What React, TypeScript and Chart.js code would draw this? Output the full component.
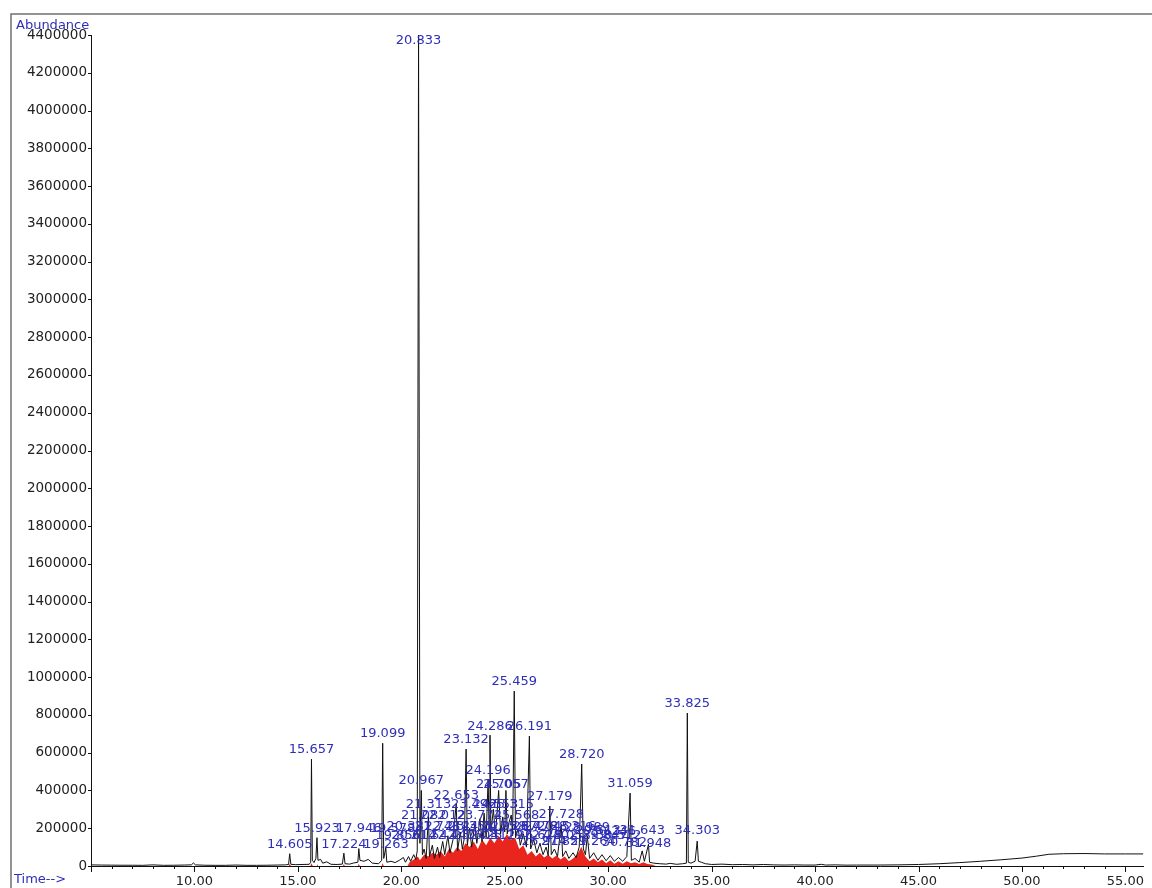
import React, { useEffect, useRef } from "react";
import { Chart, registerables } from "chart.js";

Chart.register(...registerables);

// Total ion chromatogram (time in min, abundance)
const ticTimes = [
  5.0, 5.5, 6.0, 6.5, 7.0, 7.5, 8.0, 8.5, 9.0, 9.5, 9.85, 9.95, 10.05, 10.5, 11.0, 11.5, 12.0, 12.5, 13.0, 13.5,
  14.0, 14.4, 14.55, 14.605, 14.66, 14.9, 15.2, 15.55, 15.62, 15.657, 15.7, 15.78, 15.87, 15.923, 15.97, 16.1, 16.2,
  16.4, 16.6, 16.9, 17.15, 17.224, 17.28, 17.5, 17.7, 17.9, 17.946, 18.0, 18.2, 18.4, 18.6, 18.9, 19.05, 19.099,
  19.15, 19.25, 19.3, 19.5, 19.7, 19.9, 20.1, 20.2, 20.35, 20.45, 20.6, 20.7, 20.77, 20.833, 20.9, 20.967, 21.02,
  21.1, 21.2, 21.313, 21.36, 21.5, 21.6, 21.75, 21.85, 22.0, 22.1, 22.25, 22.35, 22.5, 22.653, 22.72, 22.85, 22.95,
  23.05, 23.132, 23.19, 23.3, 23.4, 23.55, 23.65, 23.8, 23.9, 24.0, 24.1, 24.196, 24.24, 24.286, 24.33, 24.45,
  24.55, 24.705, 24.8, 24.9, 25.0, 25.057, 25.12, 25.2, 25.315, 25.38, 25.459, 25.52, 25.65, 25.75, 25.9, 26.05,
  26.191, 26.25, 26.4, 26.55, 26.7, 26.85, 27.0, 27.1, 27.179, 27.25, 27.4, 27.55, 27.728, 27.8, 27.95, 28.1, 28.3,
  28.45, 28.6, 28.72, 28.8, 28.9, 28.989, 29.1, 29.3, 29.5, 29.7, 29.9, 30.1, 30.3, 30.5, 30.7, 30.9, 31.059,
  31.12, 31.3, 31.5, 31.643, 31.75, 31.948, 32.0, 32.2, 32.5, 32.8, 33.0, 33.3, 33.6, 33.78, 33.825, 33.87, 34.0,
  34.2, 34.303, 34.36, 34.5, 34.7, 35.0, 35.5, 36.0, 36.5, 37.0, 37.5, 38.0, 38.5, 39.0, 39.5, 40.0, 40.3, 40.5,
  41.0, 41.5, 42.0, 43.0, 44.0, 45.0, 46.0, 47.0, 48.0, 49.0, 50.0, 50.7, 51.3, 52.0, 53.0, 54.0, 55.0, 55.87,
];
const ticValues = [
  6000, 5000, 4500, 4000, 4000, 3500, 6000, 3500, 4000, 5000, 6000, 16000, 6000, 4000, 3500, 3500, 5000, 3500, 3500, 4000,
  5000, 6000, 8000, 65000, 9000, 7000, 8000, 9000, 20000, 566000, 30000, 18000, 40000, 150000, 30000, 35000, 15000,
  22000, 9000, 8000, 10000, 68000, 12000, 10000, 16000, 20000, 92000, 30000, 25000, 35000, 15000, 12000, 30000, 650000,
  40000, 95000, 20000, 25000, 18000, 30000, 45000, 20000, 50000, 25000, 60000, 35000, 80000, 4400000, 120000, 400000, 60000,
  90000, 40000, 270000, 50000, 110000, 40000, 100000, 45000, 130000, 60000, 160000, 70000, 140000, 330000, 80000, 180000, 90000,
  150000, 619000, 110000, 200000, 100000, 220000, 120000, 250000, 130000, 280000, 150000, 460000, 200000, 693000, 180000, 300000,
  160000, 400000, 170000, 260000, 180000, 400000, 170000, 230000, 270000, 160000, 926000, 150000, 200000, 110000, 170000, 100000,
  688000, 90000, 140000, 70000, 120000, 60000, 100000, 55000, 317000, 60000, 90000, 50000, 220000, 50000, 80000, 40000, 70000,
  45000, 100000, 540000, 90000, 60000, 160000, 40000, 70000, 30000, 60000, 28000, 55000, 25000, 45000, 25000, 50000, 386000,
  30000, 40000, 20000, 80000, 25000, 115000, 20000, 15000, 12000, 10000, 14000, 9000, 12000, 15000, 810000, 20000, 15000,
  25000, 132000, 25000, 20000, 12000, 8000, 10000, 7000, 8000, 6000, 8000, 6000, 5000, 6000, 5000, 5000, 9000, 5000,
  6000, 4500, 5000, 5000, 6000, 8000, 12000, 18000, 25000, 33000, 42000, 52000, 62000, 65000, 66000, 64000, 64000, 64000,
];

// Integrated (red) peak areas
const areaTimes = [
  14.55, 14.605, 14.66, 15.6, 15.657, 15.72, 15.88, 15.923, 15.97, 17.18, 17.224, 17.27, 17.9, 17.946, 17.99, 19.05,
  19.099, 19.15, 20.3, 20.4, 20.6, 20.8, 20.9, 21.0, 21.1, 21.3, 21.5, 21.7, 21.9, 22.1, 22.3, 22.5, 22.7, 22.9, 23.1,
  23.3, 23.5, 23.7, 23.9, 24.1, 24.3, 24.5, 24.7, 24.9, 25.1, 25.3, 25.5, 25.7, 25.9, 26.1, 26.3, 26.5, 26.7, 26.9,
  27.1, 27.3, 27.5, 27.7, 27.9, 28.1, 28.3, 28.5, 28.7, 28.9, 29.1, 29.3, 29.5, 29.7, 29.9, 30.1, 30.3, 30.5, 30.7,
  30.9, 31.1, 31.3, 31.5, 31.7, 31.9, 32.1, 32.3,
];
const areaValues = [
  0, 12000, 0, 0, 15000, 0, 0, 12000, 0, 0, 10000, 0, 0, 12000, 0, 0,
  15000, 0, 0, 20000, 35000, 50000, 30000, 45000, 60000, 50000, 70000, 60000, 80000, 50000, 90000, 70000, 100000, 80000, 120000,
  100000, 130000, 90000, 140000, 110000, 150000, 120000, 160000, 130000, 170000, 140000, 150000, 90000, 110000, 60000, 80000, 50000, 70000, 45000,
  60000, 40000, 55000, 35000, 50000, 25000, 40000, 60000, 100000, 50000, 25000, 40000, 20000, 35000, 15000, 30000, 12000, 25000, 12000,
  25000, 15000, 20000, 10000, 20000, 10000, 8000, 0,
];

// Peak annotations: retention time text and the abundance at which each label sits
const peakLabels = [
  "14.605", "15.657", "15.923", "17.224", "17.946", "19.099", "19.263", "19.578", "20.833", "20.967", "21.313", "21.082",
  "22.653", "23.132", "24.196", "24.286", "24.705", "25.057", "25.315", "25.459", "26.191", "27.179", "27.728", "28.720",
  "28.989", "31.059", "31.643", "31.948", "33.825", "34.303", "23.496", "24.553", "22.012", "23.774", "25.568", "20.381",
  "21.748", "22.214", "23.355", "24.021", "24.938", "25.872", "26.478", "27.045", "28.316", "29.513", "30.246", "19.856",
  "20.614", "21.542", "22.447", "23.603", "24.412", "25.197", "26.675", "27.402", "28.058", "29.847", "30.512", "26.914",
  "27.851", "29.264", "30.782",
];
const labelLevels = [
  74000, 575000, 160000, 74000, 160000, 660000, 74000, 160000, 4330000, 410000, 285000, 225000,
  335000, 630000, 465000, 700000, 390000, 390000, 285000, 935000, 700000, 325000, 230000, 550000,
  165000, 395000, 145000, 80000, 820000, 145000, 285000, 285000, 225000, 225000, 225000, 170000,
  170000, 170000, 170000, 170000, 170000, 170000, 170000, 170000, 170000, 150000, 140000, 120000,
  120000, 120000, 120000, 120000, 120000, 120000, 120000, 120000, 120000, 120000, 120000, 90000,
  90000, 90000, 85000,
];

const xMin = 5;
const xMax = 55.87;
const yMax = 4400000;
const yStep = 200000;

const FONT = '"DejaVu Sans", Verdana, sans-serif';
const BLUE = "#2e2eb8";

const overlay = {
  id: "overlay",
  afterDraw(chart: any) {
    const { ctx, chartArea } = chart;
    const x = chart.scales.x;
    const y = chart.scales.y;
    ctx.save();
    // tick marks
    ctx.strokeStyle = "#111";
    ctx.lineWidth = 1;
    ctx.beginPath();
    x.ticks.forEach((t: any) => {
      if (!Number.isInteger(t.value)) return;
      const px = Math.round(x.getPixelForValue(t.value)) + 0.5;
      const len = t.value % 5 === 0 ? 6 : 3;
      ctx.moveTo(px, chartArea.bottom);
      ctx.lineTo(px, chartArea.bottom + len);
    });
    y.ticks.forEach((t: any) => {
      const py = Math.round(y.getPixelForValue(t.value)) + 0.5;
      ctx.moveTo(chartArea.left - 3, py);
      ctx.lineTo(chartArea.left, py);
    });
    ctx.stroke();

    // peak labels
    ctx.font = "13px " + FONT;
    ctx.fillStyle = BLUE;
    ctx.textAlign = "center";
    ctx.textBaseline = "bottom";
    peakLabels.forEach((txt, i) => {
      const px = x.getPixelForValue(Number(txt));
      const py = y.getPixelForValue(labelLevels[i]);
      ctx.fillText(txt, px, py - 1);
    });

    // axis captions
    ctx.textAlign = "left";
    ctx.textBaseline = "middle";
    ctx.fillText("Abundance", 16, 26);
    ctx.fillText("Time-->", 14, 880);

    // frame
    ctx.strokeStyle = "#707070";
    ctx.lineWidth = 1.5;
    ctx.beginPath();
    ctx.moveTo(11, chart.height);
    ctx.lineTo(11, 14);
    ctx.lineTo(chart.width, 14);
    ctx.stroke();
    ctx.restore();
  },
};

export default function App() {
  const ref = useRef<HTMLCanvasElement | null>(null);
  useEffect(() => {
    if (!ref.current) return;
    const chart = new Chart(ref.current, {
      type: "line",
      data: {
        datasets: [
          {
            label: "TIC",
            data: ticTimes.map((t, i) => ({ x: t, y: ticValues[i] })),
            borderColor: "#111111",
            borderWidth: 1,
            pointRadius: 0,
            tension: 0,
            fill: false,
            order: 0,
          },
          {
            label: "Integrated",
            data: areaTimes.map((t, i) => ({ x: t, y: areaValues[i] })),
            borderColor: "rgba(0,0,0,0)",
            borderWidth: 0,
            backgroundColor: "#e8261e",
            pointRadius: 0,
            tension: 0,
            fill: "origin",
            order: 1,
          },
        ],
      },
      options: {
        responsive: false,
        animation: false,
        devicePixelRatio: 1,
        layout: { padding: { top: 35, left: 0, right: 0, bottom: 0 } },
        plugins: { legend: { display: false }, tooltip: { enabled: false } },
        scales: {
          x: {
            type: "linear",
            min: xMin,
            max: xMax,
            grid: { display: false, drawTicks: false },
            border: { display: true, color: "#111", width: 1 },
            ticks: {
              stepSize: 1,
              includeBounds: false,
              autoSkip: false,
              maxRotation: 0,
              padding: 8,
              color: "#222",
              font: { family: FONT, size: 13 },
              callback: (v: any) => (Number.isInteger(v) && v % 5 === 0 && v !== xMin ? Number(v).toFixed(2) : ""),
            },
            afterFit: (s: any) => {
              s.height = 22;
            },
          },
          y: {
            type: "linear",
            min: 0,
            max: yMax,
            grid: { display: false, drawTicks: false },
            border: { display: true, color: "#111", width: 1 },
            ticks: {
              stepSize: yStep,
              autoSkip: false,
              padding: 4,
              color: "#222",
              font: { family: FONT, size: 13.5 },
              callback: (v: any) => String(v),
            },
            afterFit: (s: any) => {
              s.width = 91;
            },
          },
        },
      },
      plugins: [overlay],
    });
    return () => chart.destroy();
  }, []);
  return (
    <div style={{ position: "absolute", left: 0, top: 0, width: 1152, height: 888, background: "#fff" }}>
      <canvas ref={ref} width={1152} height={888} />
    </div>
  );
}
